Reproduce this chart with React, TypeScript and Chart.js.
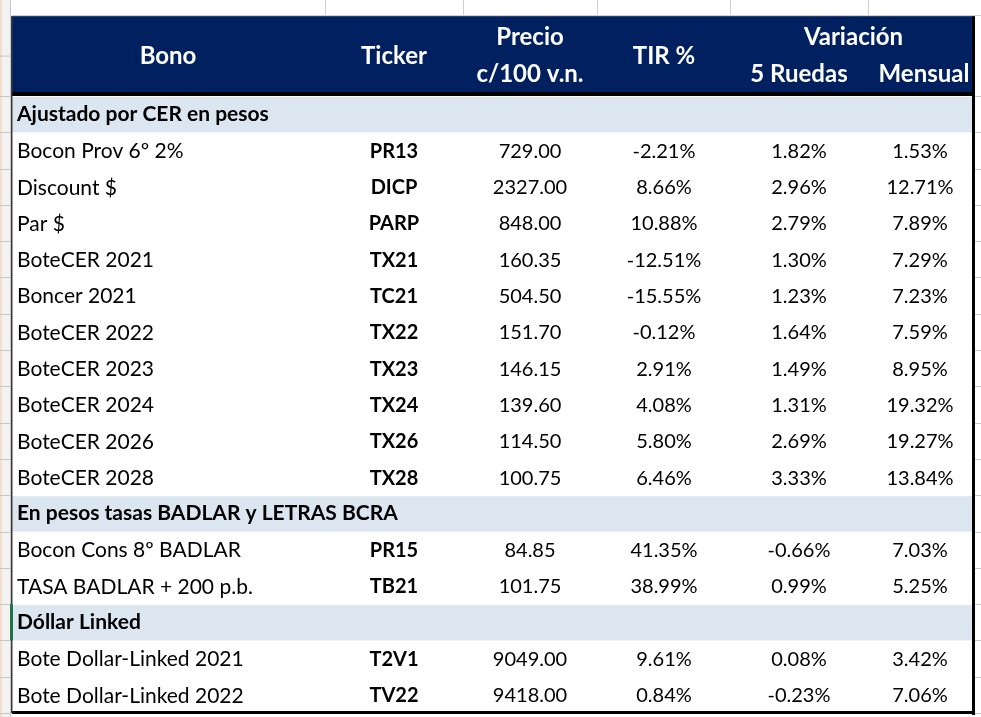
import React, { useEffect, useRef } from "react";
import { Chart, registerables } from "chart.js";

Chart.register(...registerables);

// ---- data ----
const sections = ["Ajustado por CER en pesos", "En pesos tasas BADLAR y LETRAS BCRA", "Dóllar Linked"];
const sectionSizes = [10, 2, 2];
const bonos = [
  "Bocon Prov 6º 2%", "Discount $", "Par $", "BoteCER 2021", "Boncer 2021", "BoteCER 2022",
  "BoteCER 2023", "BoteCER 2024", "BoteCER 2026", "BoteCER 2028",
  "Bocon Cons 8º BADLAR", "TASA BADLAR + 200 p.b.",
  "Bote Dollar-Linked 2021", "Bote Dollar-Linked 2022",
];
const tickers = ["PR13", "DICP", "PARP", "TX21", "TC21", "TX22", "TX23", "TX24", "TX26", "TX28", "PR15", "TB21", "T2V1", "TV22"];
const precios = [729.0, 2327.0, 848.0, 160.35, 504.5, 151.7, 146.15, 139.6, 114.5, 100.75, 84.85, 101.75, 9049.0, 9418.0];
const tir = [-2.21, 8.66, 10.88, -12.51, -15.55, -0.12, 2.91, 4.08, 5.8, 6.46, 41.35, 38.99, 9.61, 0.84];
const ruedas5 = [1.82, 2.96, 2.79, 1.3, 1.23, 1.64, 1.49, 1.31, 2.69, 3.33, -0.66, 0.99, 0.08, -0.23];
const mensual = [1.53, 12.71, 7.89, 7.29, 7.23, 7.59, 8.95, 19.32, 19.27, 13.84, 7.03, 5.25, 3.42, 7.06];
const headers = ["Bono", "Ticker", "Precio", "c/100 v.n.", "TIR %", "Variación", "5 Ruedas", "Mensual"];

// ---- layout (in scale units) ----
const COL_EDGES = [12, 325, 463, 597, 730, 868, 973];
const COL_CENTERS = [168, 394, 530, 664, 799, 920];
const TEXT_LEFT = 17;
const Y_MIN = -2.645;
const Y_MAX = 17.11;
const HEADER_TOP = -2.2;

const FONT = "Lato, 'Open Sans', 'DejaVu Sans', sans-serif";

type RowKind = { kind: "section"; text: string } | { kind: "data"; idx: number };

function buildRows(): RowKind[] {
  const rows: RowKind[] = [];
  let k = 0;
  sections.forEach((s, si) => {
    rows.push({ kind: "section", text: s });
    for (let j = 0; j < sectionSizes[si]; j++) rows.push({ kind: "data", idx: k++ });
  });
  return rows;
}

const fmtPct = (v: number) => v.toFixed(2) + "%";

export default function App() {
  const ref = useRef<HTMLCanvasElement | null>(null);
  useEffect(() => {
    document.body.style.margin = "0";
    const rows = buildRows();
    const dataRowPos: number[] = [];
    rows.forEach((r, i) => {
      if (r.kind === "data") dataRowPos[r.idx] = i + 0.5;
    });
    const cols = [bonos, tickers, precios, tir, ruedas5, mensual];
    const datasets = cols.map((_, ci) => ({
      label: "c" + ci,
      data: dataRowPos.map((y) => ({ x: ci === 0 ? TEXT_LEFT : COL_CENTERS[ci], y })),
      pointRadius: 0,
      showLine: false,
    }));

    const tablePlugin = {
      id: "table",
      beforeDatasetsDraw(chart: any) {
        const { ctx, scales } = chart;
        const X = (v: number) => scales.x.getPixelForValue(v);
        const Y = (v: number) => scales.y.getPixelForValue(v);
        ctx.save();
        ctx.fillStyle = "#ffffff";
        ctx.fillRect(0, 0, chart.width, chart.height);
        // excel grid at top
        ctx.strokeStyle = "#d0d0d0";
        ctx.lineWidth = 1;
        ctx.beginPath();
        ctx.moveTo(X(12), 15.5);
        ctx.lineTo(chart.width, 15.5);
        COL_EDGES.slice(1, 6).forEach((e) => {
          ctx.moveTo(Math.round(X(e)) + 0.5, 0);
          ctx.lineTo(Math.round(X(e)) + 0.5, 16);
        });
        ctx.stroke();
        // left row-header strip
        ctx.fillStyle = "#f2f2f2";
        ctx.fillRect(0, 0, X(10), chart.height);
        ctx.fillStyle = "#f3dccb";
        ctx.fillRect(0, 0, 2, chart.height);
        ctx.strokeStyle = "#c6c6c6";
        ctx.beginPath();
        ctx.moveTo(X(10) + 0.5, 0);
        ctx.lineTo(X(10) + 0.5, chart.height);
        for (let i = 0; i <= rows.length; i++) {
          const yy = Math.round(Y(i)) + 0.5;
          ctx.moveTo(0, yy);
          ctx.lineTo(X(10), yy);
          ctx.moveTo(X(975), yy);
          ctx.lineTo(chart.width, yy);
        }
        ctx.moveTo(0, Y(-1.1));
        ctx.lineTo(X(10), Y(-1.1));
        ctx.stroke();
        // header band
        ctx.fillStyle = "#002060";
        ctx.fillRect(X(COL_EDGES[0]), Y(HEADER_TOP), X(COL_EDGES[6]) - X(COL_EDGES[0]), Y(0) - Y(HEADER_TOP));
        ctx.fillStyle = "#000000";
        ctx.fillRect(X(COL_EDGES[0]), Y(0) - 4, X(975) - X(COL_EDGES[0]), 4);
        // section bands
        rows.forEach((r, i) => {
          if (r.kind === "section") {
            ctx.fillStyle = "#dce6f1";
            ctx.fillRect(X(COL_EDGES[0]), Y(i) + 1, X(COL_EDGES[6]) - X(COL_EDGES[0]), Y(i + 1) - Y(i) - 1);
          }
        });
        // borders
        ctx.fillStyle = "#000000";
        ctx.fillRect(X(972), Y(HEADER_TOP), 3, Y(rows.length) - Y(HEADER_TOP) + 2);
        ctx.fillRect(X(COL_EDGES[0]), Y(rows.length) - 2, X(975) - X(COL_EDGES[0]), 3);
        ctx.fillStyle = "#3a3a3a";
        ctx.fillRect(X(11), Y(HEADER_TOP), 1.5, Y(rows.length) - Y(HEADER_TOP));
        // green selection marker
        const dl = rows.findIndex((r) => r.kind === "section" && r.text === sections[2]);
        ctx.fillStyle = "#217346";
        ctx.fillRect(X(10), Y(dl), 3, Y(dl + 1) - Y(dl));

        // header text
        ctx.fillStyle = "#ffffff";
        ctx.font = `bold 24px ${FONT}`;
        ctx.textAlign = "center";
        ctx.textBaseline = "middle";
        const hMid = (HEADER_TOP + 0) / 2;
        const hTop = HEADER_TOP + 0.57;
        const hBot = HEADER_TOP + 1.6;
        ctx.fillText(headers[0], X(COL_CENTERS[0]), Y(hMid));
        ctx.fillText(headers[1], X(COL_CENTERS[1]), Y(hMid));
        ctx.fillText(headers[2], X(COL_CENTERS[2]), Y(hTop));
        ctx.fillText(headers[3], X(COL_CENTERS[2]), Y(hBot));
        ctx.fillText(headers[4], X(COL_CENTERS[3]), Y(hMid));
        ctx.fillText(headers[5], X((COL_CENTERS[4] + COL_CENTERS[5]) / 2 - 6), Y(hTop));
        ctx.fillText(headers[6], X(COL_CENTERS[4]), Y(hBot));
        ctx.save();
        ctx.beginPath();
        ctx.rect(0, 0, X(972), chart.height);
        ctx.clip();
        ctx.fillText(headers[7], X(COL_CENTERS[5] + 4), Y(hBot));
        ctx.restore();

        // section text
        ctx.fillStyle = "#000000";
        ctx.textAlign = "left";
        ctx.font = `bold 21px ${FONT}`;
        rows.forEach((r, i) => {
          if (r.kind === "section") ctx.fillText(r.text, X(TEXT_LEFT), Y(i + 0.5));
        });
        ctx.restore();
      },
      afterDatasetsDraw(chart: any) {
        const { ctx } = chart;
        ctx.save();
        ctx.fillStyle = "#000000";
        ctx.textBaseline = "middle";
        chart.data.datasets.forEach((ds: any, ci: number) => {
          const meta = chart.getDatasetMeta(ci);
          meta.data.forEach((pt: any, i: number) => {
            let txt = "";
            if (ci === 0) txt = bonos[i];
            else if (ci === 1) txt = tickers[i];
            else if (ci === 2) txt = precios[i].toFixed(2);
            else if (ci === 3) txt = fmtPct(tir[i]);
            else if (ci === 4) txt = fmtPct(ruedas5[i]);
            else txt = fmtPct(mensual[i]);
            ctx.textAlign = ci === 0 ? "left" : "center";
            ctx.font = ci === 1 ? `bold 20px ${FONT}` : ci === 0 ? `21px ${FONT}` : `20px ${FONT}`;
            ctx.fillText(txt, pt.x, pt.y + 1);
          });
        });
        ctx.restore();
      },
    };

    const chart = new Chart(ref.current as HTMLCanvasElement, {
      type: "scatter",
      data: { datasets } as any,
      options: {
        animation: false,
        responsive: true,
        maintainAspectRatio: false,
        events: [],
        layout: { padding: 0 },
        plugins: { legend: { display: false }, tooltip: { enabled: false } },
        scales: {
          x: { type: "linear", min: 0, max: 981, display: false },
          y: { type: "linear", min: Y_MIN, max: Y_MAX, reverse: true, display: false },
        },
      },
      plugins: [tablePlugin],
    });
    return () => chart.destroy();
  }, []);

  return (
    <div style={{ position: "absolute", left: 0, top: 0, width: 981, height: 717 }}>
      <canvas ref={ref} />
    </div>
  );
}
